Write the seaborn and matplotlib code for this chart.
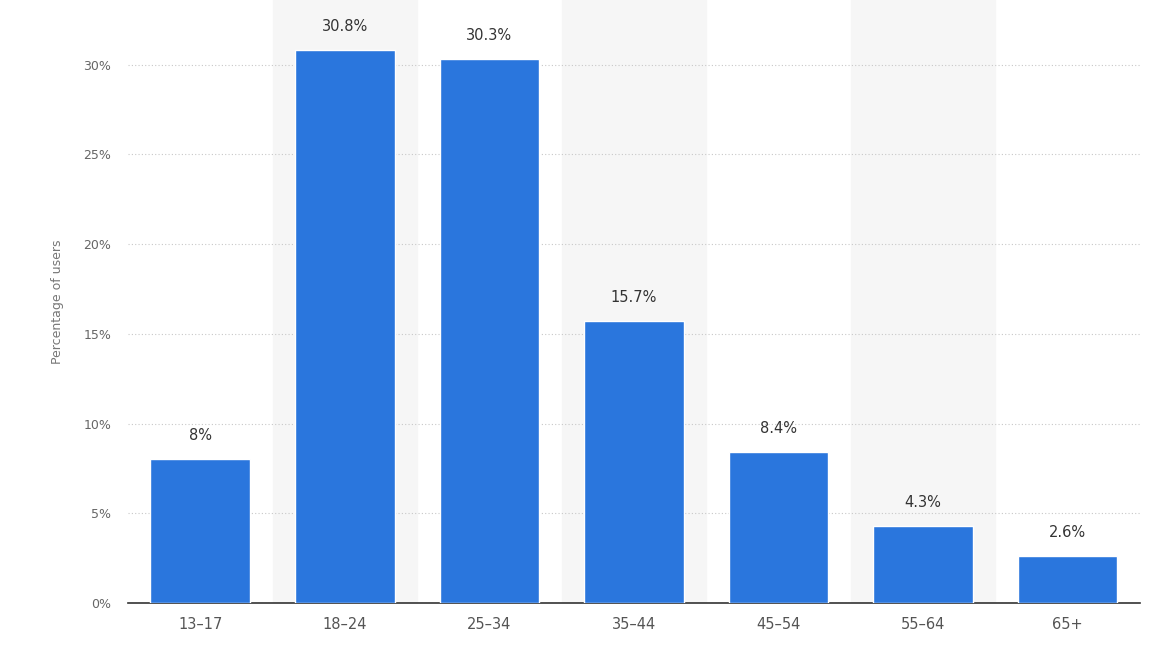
import matplotlib
matplotlib.use("Agg")
import matplotlib.pyplot as plt
import seaborn as sns
import pandas as pd

ages = ["13-17", "18-24", "25-34", "35-44", "45-54", "55-64", "65+"]
values = [8, 30.8, 30.3, 15.7, 8.4, 4.3, 2.6]
labels = ["8%", "30.8%", "30.3%", "15.7%", "8.4%", "4.3%", "2.6%"]
yticks = [0, 5, 10, 15, 20, 25, 30]

sns.set_style("white")
fig = plt.figure(figsize=(11.67, 6.56), dpi=100)
ax = fig.add_axes([0.1097, 0.0808, 0.867, 0.9192])
df = pd.DataFrame({"age": ages, "val": values})
for i in range(1, len(ages), 2):
    ax.axvspan(i - 0.5, i + 0.5, color="#f6f6f6", zorder=0)
sns.barplot(data=df, x="age", y="val", color="#2a76dd", width=0.69, saturation=1, ax=ax, zorder=3)
for i, (v, l) in enumerate(zip(values, labels)):
    ax.text(i, v + 0.9, l, ha="center", va="bottom", fontsize=10.5, color="#333333")
ax.set_xlim(-0.5, 6.5)
ax.set_ylim(0, 33.6)
ax.set_yticks(yticks)
ax.set_yticklabels([f"{t}%" for t in yticks], fontsize=9, color="#666666")
ax.tick_params(axis="x", labelsize=10.5, colors="#555555", length=0, pad=10)
ax.tick_params(axis="y", length=0, pad=12)
ax.set_xticks(range(len(ages)))
ax.set_xticklabels([a.replace("-", "–") for a in ages])
ax.yaxis.grid(True, linestyle=(0, (1, 2)), color="#c8c8c8", linewidth=0.8, zorder=1)
ax.set_axisbelow(True)
ax.set_xlabel("")
ax.set_ylabel("Percentage of users", fontsize=9, color="#777777", labelpad=14)
for s in ["top", "right", "left"]:
    ax.spines[s].set_visible(False)
ax.spines["bottom"].set_color("#333333")
ax.spines["bottom"].set_linewidth(1.2)
fig.savefig("out.png", dpi=100)
